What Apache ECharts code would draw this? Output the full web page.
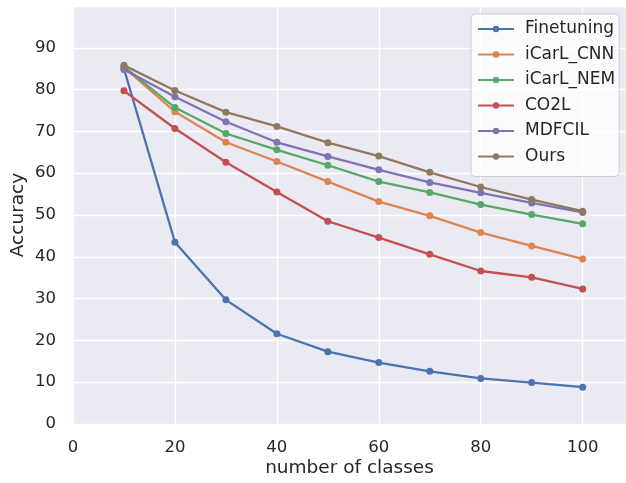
<!DOCTYPE html>
<html><head><meta charset="utf-8">
<script src="https://cdn.jsdelivr.net/npm/echarts@6/dist/echarts.min.js"></script>
<style>html,body{margin:0;padding:0;background:#fff}#c{width:626px;height:483px}</style>
</head><body><div id="c"></div>
<script>
const classes = [10, 20, 30, 40, 50, 60, 70, 80, 90, 100];
const finetuning = [85.0, 43.5, 29.7, 21.6, 17.3, 14.7, 12.6, 10.9, 9.9, 8.8];
const icarlCNN = [85.3, 74.7, 67.4, 62.8, 58.0, 53.2, 49.8, 45.8, 42.6, 39.5];
const icarlNEM = [85.5, 75.7, 69.5, 65.6, 61.9, 58.0, 55.4, 52.5, 50.1, 47.9];
const co2l = [79.7, 70.7, 62.6, 55.5, 48.5, 44.6, 40.6, 36.6, 35.1, 32.3];
const mdfcil = [84.8, 78.3, 72.3, 67.4, 64.0, 60.8, 57.8, 55.3, 52.9, 50.6];
const ours = [85.8, 79.8, 74.6, 71.2, 67.3, 64.1, 60.2, 56.7, 53.7, 50.9];
const names = ['Finetuning', 'iCarL_CNN', 'iCarL_NEM', 'CO2L', 'MDFCIL', 'Ours'];
const colors = ['#4C72B0', '#DD8452', '#55A868', '#C44E52', '#8172B3', '#937860'];
const seriesData = [finetuning, icarlCNN, icarlNEM, co2l, mdfcil, ours];

const font = 'DejaVu Sans';
const chart = echarts.init(document.getElementById('c'));
chart.setOption({
  animation: false,
  backgroundColor: '#ffffff',
  color: colors,
  textStyle: { fontFamily: font },
  grid: { left: 73, top: 6, right: 0, bottom: 59, show: true, backgroundColor: '#EAEAF2', borderWidth: 0, containLabel: false, outerBoundsMode: 'none' },
  legend: {
    orient: 'vertical', left: 471, top: 14,
    padding: [6, 4, 11, 6],
    backgroundColor: 'rgba(255,255,255,0.8)',
    borderColor: '#cfcfcf', borderWidth: 1, borderRadius: 4,
    itemWidth: 36, itemHeight: 8, itemGap: 7.5,
    textStyle: { fontFamily: font, fontSize: 17, lineHeight: 18, color: '#262626', padding: [0, 0, 0, 6] },
    data: names
  },
  xAxis: {
    type: 'value', min: 0, max: 108.5, interval: 20,
    name: 'number of classes', nameLocation: 'middle', nameGap: 35, nameMoveOverlap: false,
    nameTextStyle: { fontFamily: font, fontSize: 18.5, color: '#262626' },
    axisLine: { show: false }, axisTick: { show: false },
    axisLabel: { fontFamily: font, fontSize: 16.5, color: '#262626', margin: 15, showMaxLabel: false },
    splitLine: { show: true, lineStyle: { color: '#ffffff', width: 1.3 } }
  },
  yAxis: {
    type: 'value', min: 0, max: 100, interval: 10,
    name: 'Accuracy', nameLocation: 'middle', nameGap: 45, nameMoveOverlap: false,
    nameTextStyle: { fontFamily: font, fontSize: 18.5, color: '#262626' },
    axisLine: { show: false }, axisTick: { show: false },
    axisLabel: { fontFamily: font, fontSize: 16.5, color: '#262626', margin: 17, showMaxLabel: false },
    splitLine: { show: true, lineStyle: { color: '#ffffff', width: 1.3 } }
  },
  series: names.map((n, i) => ({
    name: n, type: 'line',
    data: classes.map((c, j) => [c, seriesData[i][j]]),
    symbol: 'circle', symbolSize: 7, showSymbol: true,
    lineStyle: { width: 2.3, color: colors[i] },
    itemStyle: { color: colors[i] }
  }))
});
</script></body></html>
